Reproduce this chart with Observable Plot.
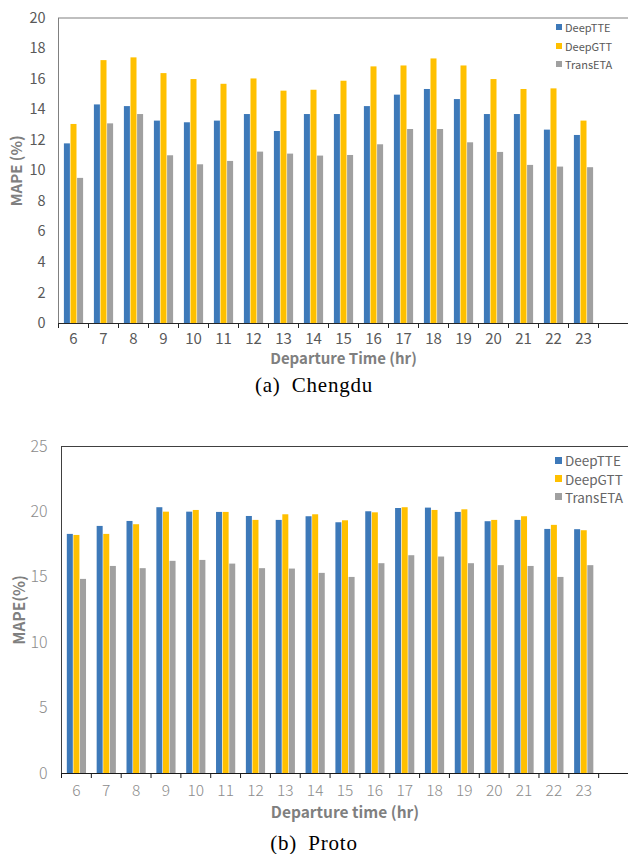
<!DOCTYPE html>
<html>
<head>
<meta charset="utf-8">
<script src="https://cdn.jsdelivr.net/npm/d3@7"></script>
<script src="https://cdn.jsdelivr.net/npm/@observablehq/plot@0.6"></script>
<style>
  html, body { margin: 0; padding: 0; background: #fff; }
  #page { position: relative; width: 628px; height: 854px; overflow: hidden; background: #fff; }
  .panel { position: absolute; left: 0; }
  .caption { position: absolute; left: 0; width: 628px; text-align: center;
             font-family: "Liberation Serif", "DejaVu Serif", serif; color: #000;
             letter-spacing: 0.8px; word-spacing: 5px; }
  .legend { position: absolute; font-family: "Noto Sans CJK SC", "Noto Sans", sans-serif; }
  .legend .row { display: flex; align-items: center; white-space: nowrap; }
  .legend .sw { display: inline-block; }
</style>
</head>
<body>
<div id="page"></div>
<script>
// ---------- data ----------
const hours = ["6","7","8","9","10","11","12","13","14","15","16","17","18","19","20","21","22","23"];
const blankSlot = " ";
const seriesNames = ["DeepTTE", "DeepGTT", "TransETA"];
const seriesColors = ["#3d79b9", "#ffc000", "#a0a0a0"];

const chengduDeepTTE  = [11.76, 14.31, 14.20, 13.25, 13.14, 13.25, 13.68, 12.57, 13.68, 13.68, 14.20, 14.95, 15.32, 14.66, 13.68, 13.68, 12.66, 12.31];
const chengduDeepGTT  = [13.03, 17.21, 17.39, 16.36, 15.97, 15.66, 16.01, 15.21, 15.27, 15.86, 16.80, 16.86, 17.32, 16.86, 15.97, 15.32, 15.36, 13.25];
const chengduTransETA = [ 9.50, 13.07, 13.68, 10.98, 10.39, 10.61, 11.22, 11.09, 10.96, 11.00, 11.70, 12.70, 12.70, 11.83, 11.20, 10.35, 10.24, 10.20];

const protoDeepTTE  = [18.28, 18.89, 19.27, 20.32, 19.98, 19.96, 19.65, 19.35, 19.63, 19.17, 20.01, 20.26, 20.29, 19.96, 19.25, 19.35, 18.66, 18.64];
const protoDeepGTT  = [18.20, 18.28, 19.02, 19.98, 20.11, 19.96, 19.35, 19.78, 19.78, 19.32, 19.93, 20.32, 20.11, 20.16, 19.35, 19.63, 18.97, 18.56];
const protoTransETA = [14.84, 15.83, 15.66, 16.22, 16.29, 16.01, 15.66, 15.63, 15.30, 14.99, 16.04, 16.65, 16.55, 16.04, 15.89, 15.83, 14.99, 15.89];

const chengduYTicks = [0, 2, 4, 6, 8, 10, 12, 14, 16, 18, 20];
const protoYTicks = [0, 5, 10, 15, 20, 25];

const chengduTexts = { yTitle: "MAPE (%)", xTitle: "Departure Time (hr)", caption: "(a)  Chengdu" };
const protoTexts   = { yTitle: "MAPE(%)",  xTitle: "Departure time (hr)", caption: "(b)  Proto" };

// ---------- drawing ----------
function makeChart(cfg) {
  const domain = [...hours, blankSlot];
  const step = (cfg.width - cfg.marginLeft - cfg.marginRight) / domain.length;
  const barW = 6, pitch = 6.6;
  const inset = (step - barW) / 2;
  const barMarks = cfg.series.map((vals, i) =>
    Plot.barY(hours.map((h, j) => ({hour: h, value: vals[j]})), {
      x: "hour", y: "value", fill: seriesColors[i],
      insetLeft: inset, insetRight: inset, dx: (i - 1) * pitch + 0.5
    })
  );
  return Plot.plot({
    width: cfg.width, height: cfg.height,
    marginTop: cfg.marginTop, marginBottom: cfg.marginBottom,
    marginLeft: cfg.marginLeft, marginRight: cfg.marginRight,
    style: {fontFamily: '"Noto Sans CJK SC", "Noto Sans", sans-serif', background: "white", overflow: "visible"},
    x: {domain, padding: 0, round: false, label: null, axis: null},
    y: {domain: cfg.yDomain, label: null, axis: null},
    marks: [
      Plot.frame({stroke: cfg.frameColor, insetRight: -3}),
      ...barMarks,
      Plot.ruleY([0], {stroke: cfg.axisColor, strokeWidth: 1.2}),
      Plot.axisY({ticks: cfg.yTicks, tickSize: 0, tickPadding: cfg.yPad, fontSize: cfg.yFont,
                  fontWeight: cfg.tickWeight, color: cfg.tickColor, label: null}),
      Plot.axisX({tickSize: 0, tickPadding: cfg.xPad, fontSize: cfg.xFont,
                  fontWeight: cfg.tickWeight, color: cfg.tickColor, label: null}),
      Plot.axisX({tickSize: 5, tickFormat: () => "", dx: -step / 2, color: cfg.axisColor, label: null}),
      Plot.text([cfg.texts.yTitle], {text: d => d, frameAnchor: "left", dx: -cfg.yTitleOffset, rotate: -90,
                  textAnchor: "middle", lineAnchor: "middle",
                  fontSize: cfg.titleFont, fontWeight: "bold", fill: "#7f7f7f"}),
      Plot.text([cfg.texts.xTitle], {text: d => d, frameAnchor: "bottom", dy: cfg.xTitleOffset,
                  textAnchor: "middle", lineAnchor: "middle",
                  fontSize: cfg.titleFont, fontWeight: "bold", fill: "#7f7f7f"})
    ]
  });
}

function makeLegend(cfg) {
  const box = document.createElement("div");
  box.className = "legend";
  box.style.left = cfg.left + "px";
  box.style.top = cfg.top + "px";
  seriesNames.forEach((name, i) => {
    const row = document.createElement("div");
    row.className = "row";
    row.style.height = cfg.rowH + "px";
    row.style.fontSize = cfg.font + "px";
    row.style.color = cfg.color;
    const sw = document.createElement("span");
    sw.className = "sw";
    sw.style.width = cfg.sw + "px"; sw.style.height = cfg.sw + "px";
    sw.style.background = seriesColors[i];
    sw.style.marginRight = "3px";
    row.appendChild(sw);
    row.appendChild(document.createTextNode(name));
    box.appendChild(row);
  });
  return box;
}

const page = document.getElementById("page");

// Panel (a)
const top1 = document.createElement("div");
top1.className = "panel"; top1.style.top = "0px";
top1.appendChild(makeChart({
  width: 628, height: 372, marginTop: 17.5, marginBottom: 49, marginLeft: 58, marginRight: 0,
  series: [chengduDeepTTE, chengduDeepGTT, chengduTransETA],
  yDomain: [0, 20], yTicks: chengduYTicks,
  yPad: 13, xPad: 10, yFont: 14.5, xFont: 15, tickWeight: "normal", tickColor: "#595959",
  frameColor: "#808080", axisColor: "#262626",
  titleFont: 15, yTitleOffset: 41, xTitleOffset: 36, texts: chengduTexts
}));
page.appendChild(top1);
page.appendChild(makeLegend({left: 556, top: 18, rowH: 18.6, font: 11, sw: 6, color: "#595959"}));

const cap1 = document.createElement("div");
cap1.className = "caption"; cap1.style.top = "373px"; cap1.style.fontSize = "21px";
cap1.textContent = chengduTexts.caption;
page.appendChild(cap1);

// Panel (b)
const top2 = document.createElement("div");
top2.className = "panel"; top2.style.top = "420px";
top2.appendChild(makeChart({
  width: 628, height: 405, marginTop: 26, marginBottom: 52, marginLeft: 61, marginRight: 0,
  series: [protoDeepTTE, protoDeepGTT, protoTransETA],
  yDomain: [0, 25], yTicks: protoYTicks,
  yPad: 14, xPad: 11.5, yFont: 16, xFont: 15.5, tickWeight: 300, tickColor: "#8c8c8c",
  frameColor: "#404040", axisColor: "#1a1a1a",
  titleFont: 15.5, yTitleOffset: 41, xTitleOffset: 40, texts: protoTexts
}));
page.appendChild(top2);
page.appendChild(makeLegend({left: 555, top: 451, rowH: 18.4, font: 13.5, sw: 7, color: "#666666"}));

const cap2 = document.createElement("div");
cap2.className = "caption"; cap2.style.top = "831px"; cap2.style.fontSize = "21px";
cap2.textContent = protoTexts.caption;
page.appendChild(cap2);
</script>
</body>
</html>
